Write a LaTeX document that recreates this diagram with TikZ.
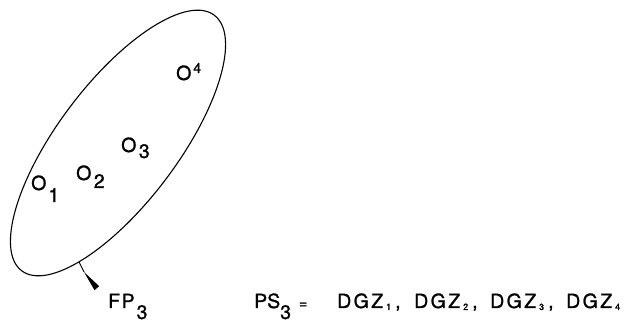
\documentclass[tikz,border=0pt]{standalone}
\usepackage{fontspec}
\setmainfont{TeX Gyre Heros}[FakeBold=1.2]
\usetikzlibrary{shapes.geometric}
\newcommand\lowr[2]{\raisebox{-#1}{#2}}
\newcommand\dgzitem[1]{D\kern2.4pt G\kern2.4pt Z\kern3pt\raisebox{-2pt}{\fontsize{9}{9}\selectfont #1}}
\begin{document}
\begin{tikzpicture}[x=1pt,y=1pt,
  lbl/.style={anchor=base west, inner sep=0pt, font=\fontsize{19.5}{22}\selectfont},
  ring/.style={draw, ellipse, line width=1.1pt, inner sep=0pt, minimum width=320pt, minimum height=120pt}]
\fill[white] (0,0) rectangle (635,323);
\useasboundingbox (0,0) rectangle (635,323);
% the set FP3
\node[ring, rotate=53] (fp) at (118,180) {};
% objects
\node[lbl] (o1) at (31,133) {O\kern2pt\lowr{12pt}{1}};
\node[lbl] (o2) at (76,143) {O\kern2.5pt\lowr{8pt}{2}};
\node[lbl] (o3) at (121,171) {O\kern2.5pt\lowr{6pt}{3}};
\node[lbl] (o4) at (176,243) {O\kern2pt\raisebox{7pt}{\fontsize{14}{14}\selectfont 4}};
% pointer
\coordinate (tk) at (84,51);
\coordinate (w1) at (94.5,32.8);
\coordinate (w2) at (99.2,36.8);
\draw[line width=0.9pt] (fp.199) -- (tk);
\fill (tk) -- (w1) -- (w2) -- cycle;
% labels
\node[lbl] (fp3) at (108,15) {F\kern1.5pt P\kern2pt\lowr{11pt}{3}};
\node[lbl] (ps3) at (254,15) {PS\lowr{11pt}{3}\kern8pt{\fontsize{14}{14}\selectfont =}};
\node[lbl] (d1) at (337,15) {\dgzitem{1}\kern4pt,};
\node[lbl] (d2) at (414,15) {\dgzitem{2}\kern4pt,};
\node[lbl] (d3) at (490,15) {\dgzitem{3}\kern4pt,};
\node[lbl] (d4) at (566,15) {\dgzitem{4}};
\end{tikzpicture}
\end{document}
